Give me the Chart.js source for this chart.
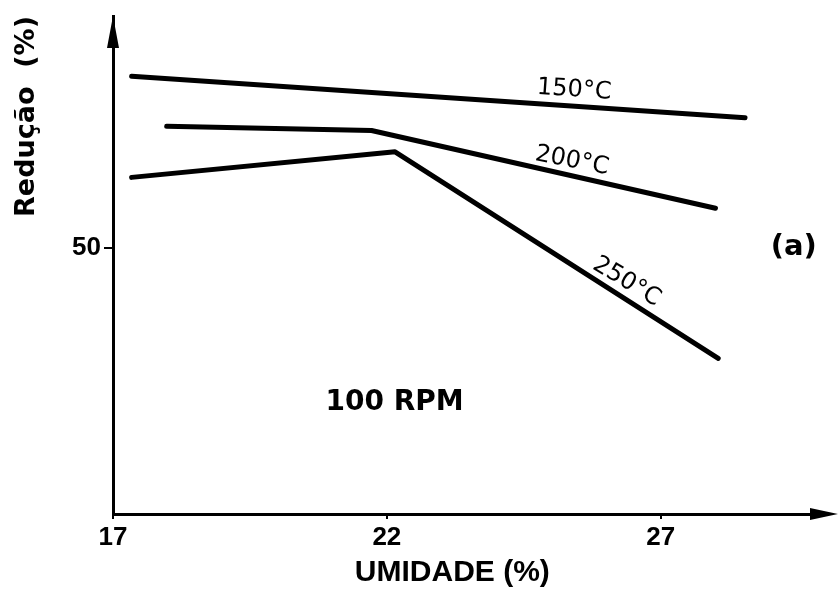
<!DOCTYPE html>
<html>
<head>
<meta charset="utf-8">
<script src="https://cdn.jsdelivr.net/npm/chart.js@4.4.1/dist/chart.umd.min.js"></script>
<style>
  body { margin: 0; background: #fff; }
  canvas { display: block; }
</style>
</head>
<body>
<canvas id="myChart" width="838" height="600"></canvas>
<script>
// values (Umidade %, Redução %)
const umid150 = [17.34, 28.54];
const red150 = [82.2, 74.4];
const umid200 = [17.98, 21.72, 28.0];
const red200 = [72.8, 72.0, 57.4];
const umid250 = [17.34, 22.15, 28.05];
const red250 = [63.2, 68.0, 29.2];

const xTicks = [17, 22, 27];
const yTicks = [50];

// text written on the plot, placed in data units
const notes = [
  { text: '150°C', x: 25.42, y: 79.6, rot: 4, font: '24px "DejaVu Sans"' },
  { text: '200°C', x: 25.38, y: 66.3, rot: 11, font: '24px "DejaVu Sans"' },
  { text: '250°C', x: 26.38, y: 43.6, rot: 31, font: '24px "DejaVu Sans"' },
  { text: '(a)', x: 29.43, y: 50.0, rot: 0, font: 'bold 29px "DejaVu Sans"' },
  { text: '100 RPM', x: 22.14, y: 20.8, rot: 0, font: 'bold 28px "DejaVu Sans"' }
];

function pts(xs, ys) {
  return xs.map((x, i) => ({ x: x, y: ys[i] }));
}

// notes + arrow heads on the axes
const extras = {
  id: 'extras',
  afterDraw(chart) {
    const ctx = chart.ctx;
    const a = chart.chartArea;
    const xs = chart.scales.x, ys = chart.scales.y;

    ctx.save();
    ctx.fillStyle = '#000';
    ctx.strokeStyle = '#000';
    ctx.lineWidth = 3;
    // x axis runs on to the arrow
    ctx.beginPath();
    ctx.moveTo(a.right - 2, a.bottom);
    ctx.lineTo(chart.width - 20, a.bottom);
    ctx.stroke();
    ctx.beginPath();
    ctx.moveTo(chart.width, a.bottom);
    ctx.lineTo(chart.width - 28, a.bottom - 6);
    ctx.lineTo(chart.width - 28, a.bottom + 6);
    ctx.closePath();
    ctx.fill();
    // y arrow
    ctx.beginPath();
    ctx.moveTo(a.left, a.top);
    ctx.lineTo(a.left - 6, a.top + 32);
    ctx.lineTo(a.left + 6, a.top + 32);
    ctx.closePath();
    ctx.fill();

    ctx.textAlign = 'center';
    ctx.textBaseline = 'middle';
    notes.forEach(n => {
      ctx.save();
      ctx.translate(xs.getPixelForValue(n.x), ys.getPixelForValue(n.y));
      ctx.rotate(n.rot * Math.PI / 180);
      ctx.font = n.font;
      ctx.fillText(n.text, 0, 0);
      ctx.restore();
    });
    ctx.restore();
  }
};

const line = {
  borderColor: '#000',
  borderWidth: 5,
  borderCapStyle: 'round',
  borderJoinStyle: 'round',
  pointRadius: 0,
  tension: 0,
  fill: false
};

var ctx = document.getElementById('myChart').getContext('2d');
var chart = new Chart(ctx, {
  type: 'line',
  data: {
    datasets: [
      Object.assign({ label: '150°C', data: pts(umid150, red150) }, line),
      Object.assign({ label: '200°C', data: pts(umid200, red200) }, line),
      Object.assign({ label: '250°C', data: pts(umid250, red250) }, line)
    ]
  },
  options: {
    responsive: false,
    animation: false,
    layout: { padding: { top: 15, right: 13, left: 0, bottom: 0 } },
    plugins: {
      legend: { display: false },
      tooltip: { enabled: false }
    },
    scales: {
      x: {
        type: 'linear',
        min: 17,
        max: 30,
        afterBuildTicks: s => { s.ticks = xTicks.map(v => ({ value: v })); },
        afterFit: s => { s.height = 86; },
        border: { display: true, color: '#000', width: 3 },
        grid: { drawOnChartArea: false, drawTicks: true, tickLength: 5, color: '#000', lineWidth: 2 },
        ticks: {
          color: '#000',
          padding: 3,
          maxRotation: 0,
          font: { family: 'Liberation Sans', size: 26, weight: 'bold' }
        },
        title: {
          display: true,
          text: 'UMIDADE (%)    ',
          color: '#000',
          padding: { top: 0, bottom: 9 },
          font: { family: 'Liberation Sans', size: 30, weight: 'bold' }
        }
      },
      y: {
        min: 0,
        max: 93.5,
        afterBuildTicks: s => { s.ticks = yTicks.map(v => ({ value: v })); },
        afterFit: s => { s.width = 113; },
        border: { display: true, color: '#000', width: 3 },
        grid: { drawOnChartArea: false, drawTicks: true, tickLength: 9, color: '#000', lineWidth: 2 },
        ticks: {
          color: '#000',
          padding: 3,
          font: { family: 'Liberation Sans', size: 26, weight: 'bold', lineHeight: 1 }
        },
        title: {
          display: true,
          text: 'Redução  (%)',
          align: 'end',
          color: '#000',
          padding: { top: 11, bottom: 0 },
          font: { family: 'DejaVu Sans', size: 27, weight: 'bold' }
        }
      }
    }
  },
  plugins: [extras]
});
</script>
</body>
</html>
